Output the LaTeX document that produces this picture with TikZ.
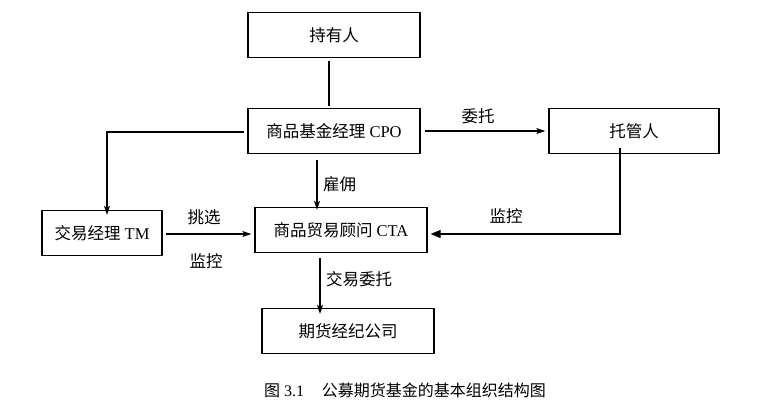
\documentclass[tikz,border=0pt]{standalone}
\usepackage{fontspec}
\setmainfont{Liberation Serif}
\newfontfamily\cjk{Noto Sans CJK SC}
\usetikzlibrary{arrows.meta}
\begin{document}
\begin{tikzpicture}[x=1pt,y=-1pt,
  box/.style={draw=black,line width=1.3pt,minimum width=172pt,minimum height=45pt,inner sep=0pt,font=\fontsize{16.5}{19}\selectfont},
  lbl/.style={font=\fontsize{16.5}{19}\selectfont,inner sep=0pt},
  conn/.style={line width=1.1pt,-{Stealth[length=9pt,width=6pt,inset=2pt]}},
  plain/.style={line width=1.1pt}]
\useasboundingbox (0,0) rectangle (761,408);
\fill[white] (0,0) rectangle (761,408);
\node[box] (hold) at (334,35) {\cjk 持有人};
\node[box] (cpo) at (334,131) {{\cjk 商品基金经理} CPO};
\node[box,minimum width=170pt] (cust) at (634,131) {\cjk 托管人};
\node[box,minimum width=120pt] (tm) at (102,233) {{\cjk 交易经理} TM};
\node[box] (cta) at (341,230) {{\cjk 商品贸易顾问} CTA};
\node[box] (fcm) at (348,331) {\cjk 期货经纪公司};
\node[font=\fontsize{16}{19}\selectfont] (cap) at (405,390) {{\cjk 图} 3.1\hspace{1.1em}{\cjk 公募期货基金的基本组织结构图}};
% connectors
\coordinate (ht) at (329,61);
\coordinate (hb) at (329,106);
\draw[plain] (ht) -- (hb);
\coordinate (tl) at (107,132);
\draw[conn] (tl -| cpo.west) ++(-3pt,0) -- (tl) -- ([yshift=-5pt]tm.north -| tl);
\draw[conn] ([xshift=4pt]cpo.east) -- ([xshift=-3pt]cust.west);
\node[lbl] (l1) at (478,116) {\cjk 委托};
\coordinate (yt) at (317,160);
\draw[conn] (yt) -- ([yshift=-3pt]cta.north -| yt);
\node[lbl,anchor=west] (l2) at (323,184) {\cjk 雇佣};
\coordinate (cr) at (620,234);
\draw[line width=1.1pt,-{Triangle[length=10pt,width=8pt]}] ([yshift=6pt]cust.south -| cr) -- (cr) -- ([xshift=3pt]cta.east |- cr);
\node[lbl] (l3) at (506,216) {\cjk 监控};
\coordinate (tr) at (166,234);
\draw[conn] (tr) -- ([xshift=-3pt]cta.west |- tr);
\node[lbl] (l4) at (204,217) {\cjk 挑选};
\node[lbl] (l5) at (206,261) {\cjk 监控};
\coordinate (cb) at (320,258);
\draw[conn] (cb) -- ([yshift=-6pt]fcm.north -| cb);
\node[lbl,anchor=west] (l6) at (326,279) {\cjk 交易委托};
\end{tikzpicture}
\end{document}
